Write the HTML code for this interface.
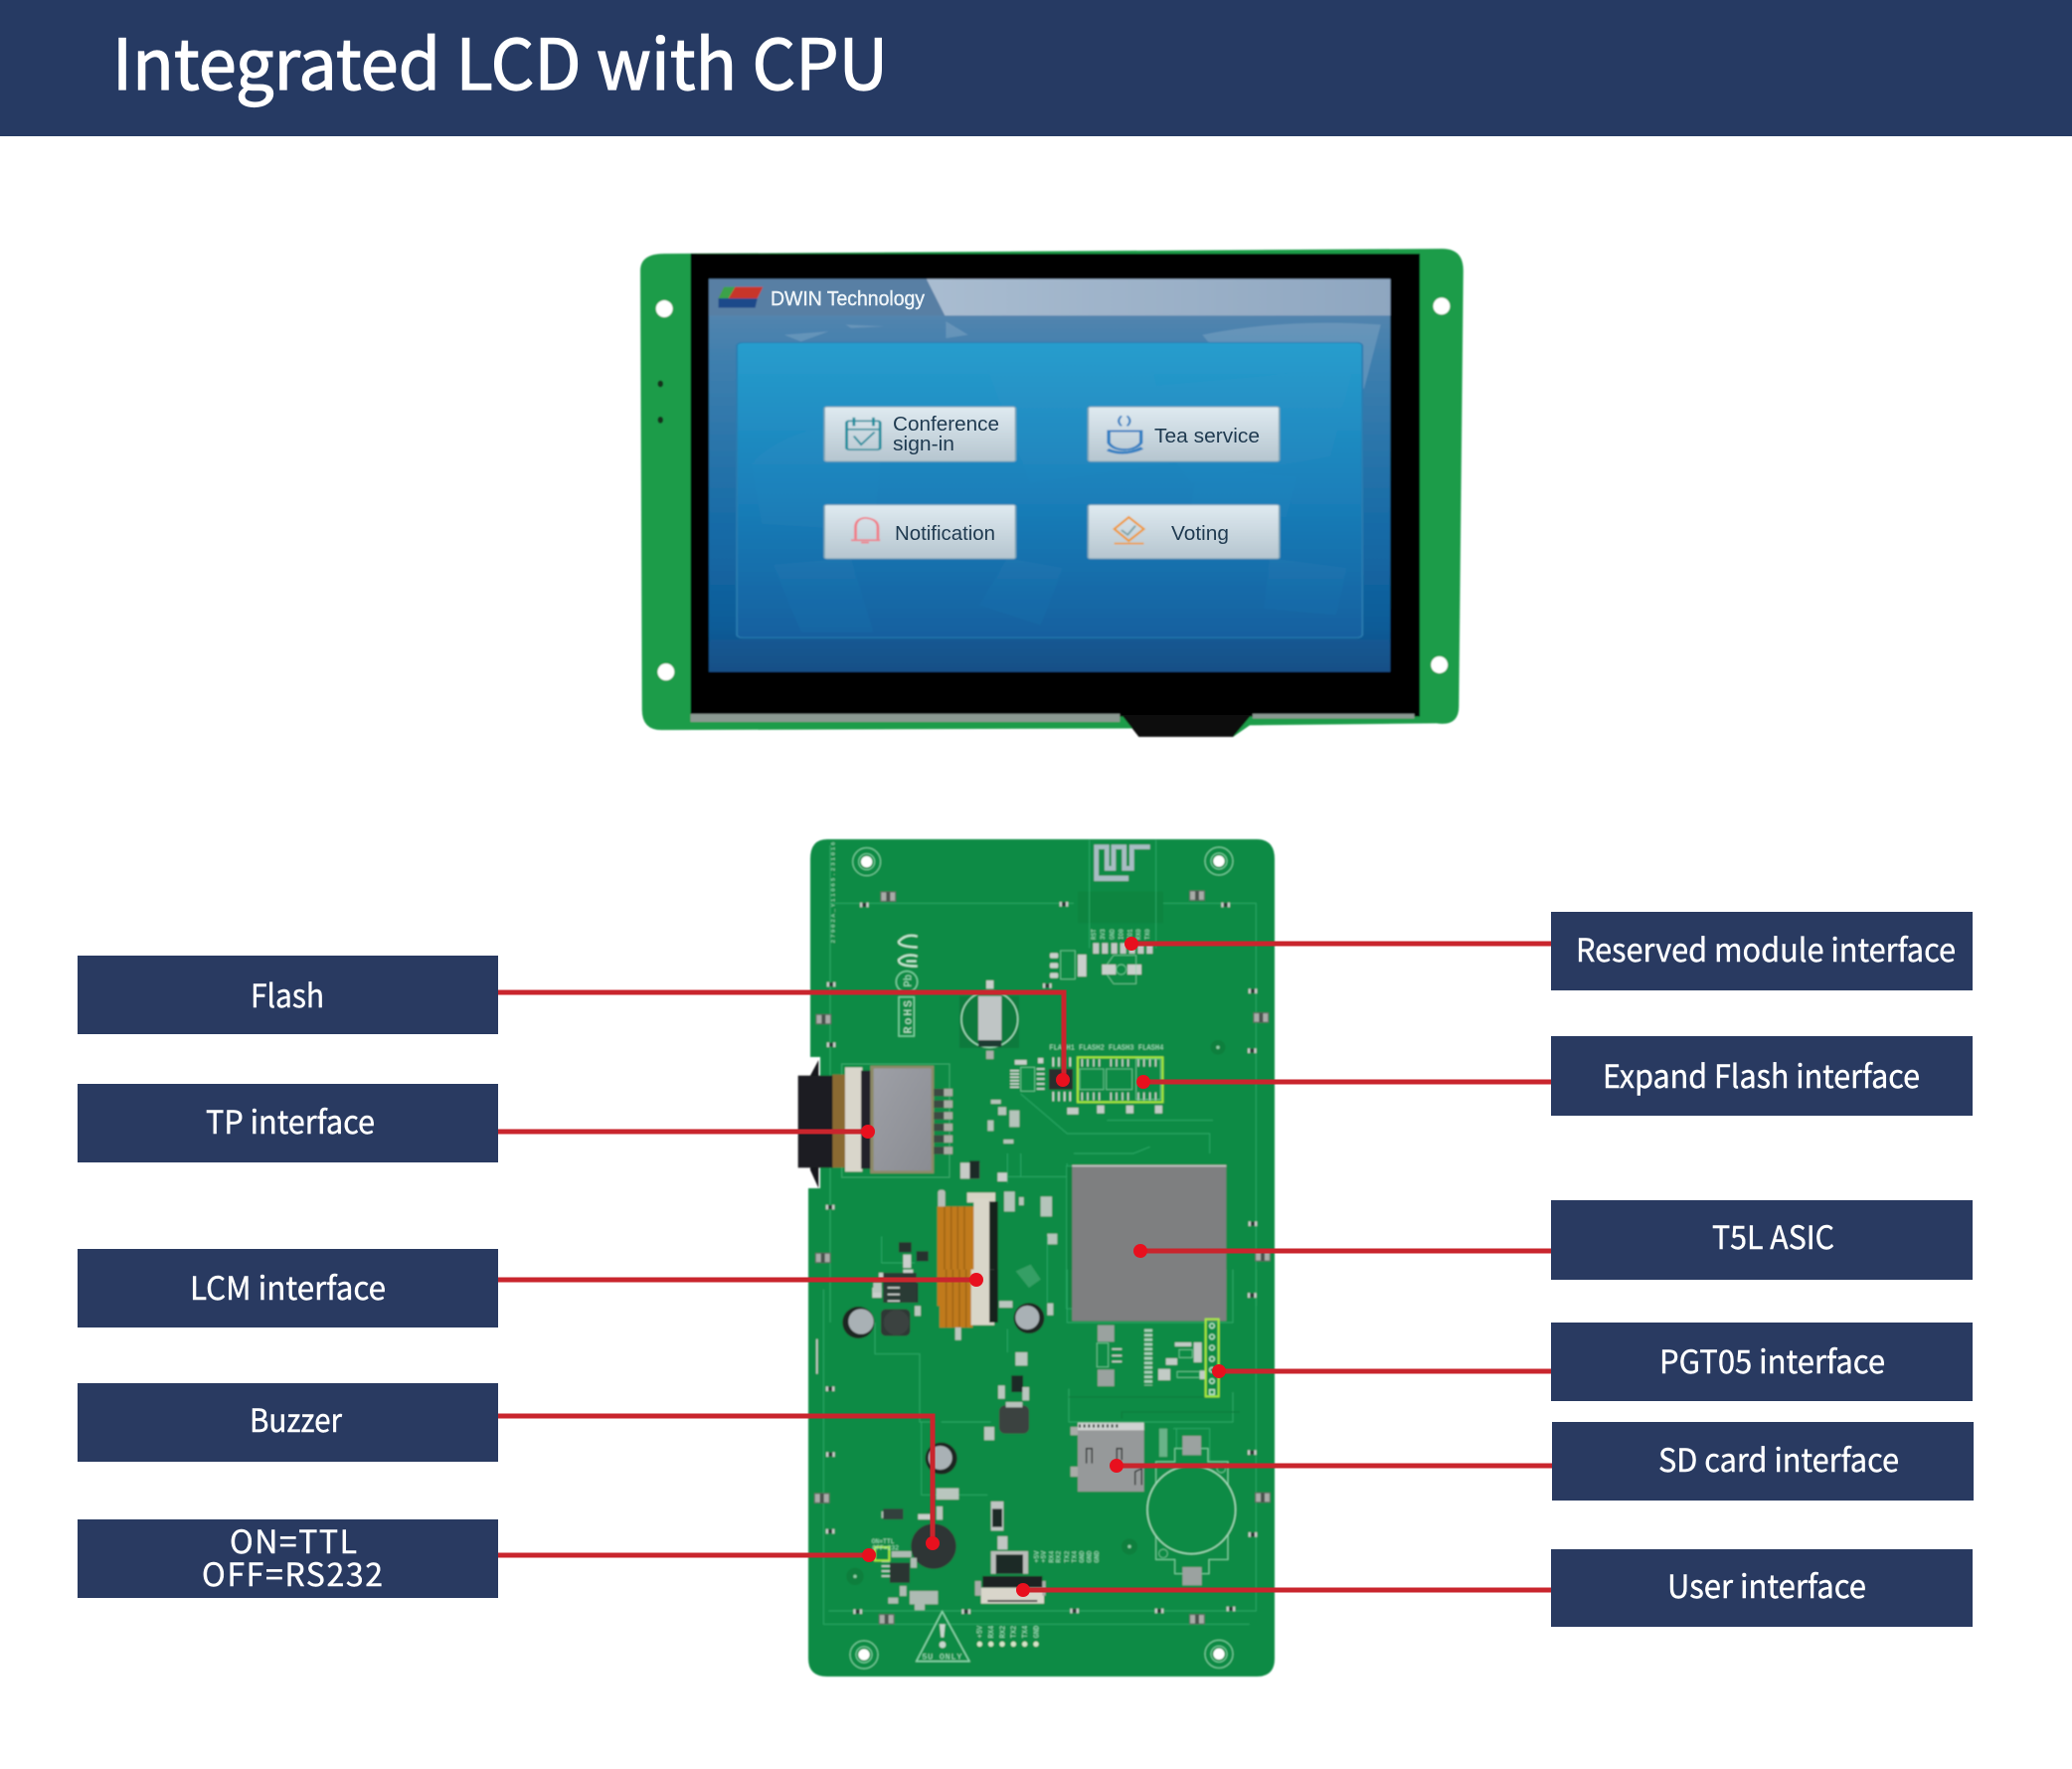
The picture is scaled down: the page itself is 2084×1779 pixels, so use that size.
<!DOCTYPE html>
<html><head><meta charset="utf-8"><title>Integrated LCD with CPU</title>
<style>html,body{margin:0;padding:0;background:#fff}svg{display:block}
.l{font-family:"Noto Sans CJK SC","Liberation Sans",sans-serif;font-size:32px;fill:#fff}
.b{font-family:"Liberation Sans",sans-serif;font-size:20px;fill:#1f3a50}
.s{font-family:"Liberation Mono",monospace;font-size:24px;fill:#a8e6c4}
.silk{fill:none;stroke:#7fd6a6;stroke-width:4}
.tr{fill:none;stroke:#0a7c3c;stroke-width:4}
.tl{fill:none;stroke:#2aa766;stroke-width:3}
</style></head><body>
<svg xmlns="http://www.w3.org/2000/svg" width="2084" height="1779" viewBox="0 0 2084 1779">
<defs>
<linearGradient id="scr" x1="0" y1="0" x2="0" y2="1"><stop offset="0" stop-color="#6388ad"/><stop offset=".2" stop-color="#3f7fae"/><stop offset=".65" stop-color="#146aa6"/><stop offset=".88" stop-color="#0f5c98"/><stop offset="1" stop-color="#164f86"/></linearGradient>
<linearGradient id="pan" x1="0" y1="0" x2="0" y2="1"><stop offset="0" stop-color="#279dcd"/><stop offset=".5" stop-color="#1a80ba"/><stop offset="1" stop-color="#12609f"/></linearGradient>
<linearGradient id="hd" x1="0" y1="0" x2="1" y2="0"><stop offset="0" stop-color="#a9bcd0"/><stop offset="1" stop-color="#8ea6c0"/></linearGradient>
<linearGradient id="btn" x1="0" y1="0" x2="0" y2="1"><stop offset="0" stop-color="#dfeaf0"/><stop offset="1" stop-color="#b5c5cf"/></linearGradient>
<linearGradient id="tp" x1="0" y1="0" x2="1" y2="1"><stop offset="0" stop-color="#9d9fa6"/><stop offset="1" stop-color="#8a8c92"/></linearGradient>
<filter id="bl" x="-5%" y="-5%" width="110%" height="110%"><feGaussianBlur stdDeviation=".8"/></filter>
<symbol id="r" overflow="visible"><rect x="-10" y="-6" width="20" height="12" fill="#2b3a36"/><rect x="-13" y="-7" width="7" height="14" fill="#c9cfcb"/><rect x="6" y="-7" width="7" height="14" fill="#c9cfcb"/></symbol>
<symbol id="clip" overflow="visible"><rect x="-22" y="-14" width="44" height="28" fill="#a9aca8" stroke="#5a6660" stroke-width="3"/><rect x="-6" y="-14" width="12" height="28" fill="#4a524e"/></symbol>
<symbol id="hole" overflow="visible"><circle r="42" fill="none" stroke="#7fd6a6" stroke-width="3"/><circle r="24" fill="#0a8a43" stroke="#7fd6a6" stroke-width="3"/><circle r="17" fill="#fff"/></symbol>
</defs>

<rect width="2084" height="1779" fill="#fff"/>
<rect width="2084" height="137" fill="#263a63"/>
<text x="113" y="90" textLength="780" lengthAdjust="spacingAndGlyphs" font-family="'Noto Sans CJK SC','Liberation Sans',sans-serif" font-size="70" fill="#fff" stroke="#fff" stroke-width="1.2">Integrated LCD with CPU</text>

<!-- LCD -->
<g filter="url(#bl)">
<g transform="translate(620.5,228) scale(.5608,.3397)">
<path d="M85 80L1480 65Q1518 65 1518 130L1510 1420Q1510 1480 1470 1470L1135 1476L1105 1510H936L930 1485L80 1490Q45 1490 45 1430L42 130Q42 80 85 80Z" fill="#1d9c48"/>
<rect x="132" y="80" width="1308" height="1370" fill="#000"/>
<rect x="132" y="1442" width="770" height="24" fill="#8b9992"/>
<rect x="1140" y="1442" width="290" height="14" fill="#8b9992"/>
<path d="M905 1445H1138L1105 1510H936Z" fill="#111"/>
<rect x="165" y="155" width="1222" height="1163" fill="url(#scr)"/>
<path d="M555 155H1387V263H588Z" fill="url(#hd)"/>
<path d="M165 155H555L588 263H165Z" fill="#587fa4"/>
<path d="M1050 320Q1200 270 1370 290L1340 480L1200 430L1060 340ZM300 320L380 310L330 340ZM590 280L630 320L590 330ZM410 290L480 295L420 300Z" fill="#8fb0cb" opacity=".4"/>
<rect x="215" y="343" width="1122" height="874" rx="10" fill="url(#pan)" stroke="#2a7db0" stroke-width="3"/>
<path d="M240 700Q330 560 480 600L460 900L260 880ZM280 1000L420 980L460 1200L330 1200ZM660 400L960 420L1000 700L740 760ZM700 980L800 1010L760 1180L650 1120ZM900 480L1320 420L1280 680L1030 760ZM1040 720L1220 740L1200 860L1030 820ZM1170 980L1310 1010L1290 1150L1160 1130Z" fill="#4a9bc6" opacity=".08"/>
<g stroke="#7fa6b8" stroke-width="3">
<rect x="372" y="533" width="343" height="162" rx="5" fill="url(#btn)"/>
<rect x="845" y="533" width="343" height="162" rx="5" fill="url(#btn)"/>
<rect x="372" y="823" width="343" height="160" rx="5" fill="url(#btn)"/>
<rect x="845" y="823" width="343" height="160" rx="5" fill="url(#btn)"/>
</g>
<!-- icons -->
<rect x="412" y="575" width="60" height="85" rx="5" fill="none" stroke="#1c8e9e" stroke-width="5"/>
<path d="M412 600H472M425 565V590M460 565V590" stroke="#1c8e9e" stroke-width="5"/>
<path d="M425 620L438 645L462 608" fill="none" stroke="#1c8e9e" stroke-width="4"/>
<path d="M882 605H940V640Q930 660 910 660Q890 660 882 640Z" fill="none" stroke="#2d7fc2" stroke-width="6"/>
<path d="M880 660Q910 680 942 655" fill="none" stroke="#2d7fc2" stroke-width="8"/>
<path d="M905 560Q895 575 905 590M915 560Q925 575 915 590" fill="none" stroke="#2d7fc2" stroke-width="4"/>
<path d="M428 925V890Q428 865 445 862Q468 865 468 890V925M420 928H472M438 935H452" fill="none" stroke="#ef7e88" stroke-width="5"/>
<path d="M892 895L918 860L945 895L918 930Z" fill="none" stroke="#ee9a35" stroke-width="5"/>
<path d="M905 898L916 912L930 885" fill="none" stroke="#7da2a5" stroke-width="4"/>
<path d="M892 938H945" stroke="#ee9a35" stroke-width="5"/>
<!-- logo -->
<path d="M192 178H262L252 212H182Z" fill="#c8362b"/>
<path d="M192 178H212L200 212H182Z" fill="#3ba24a"/>
<path d="M182 212H252L248 240H182Z" fill="#1c4a8a"/>
<!-- holes -->
<ellipse cx="85" cy="243" rx="15" ry="25" fill="#fff"/>
<ellipse cx="1479" cy="235" rx="15" ry="25" fill="#fff"/>
<ellipse cx="88" cy="1318" rx="15" ry="25" fill="#fff"/>
<ellipse cx="1475" cy="1297" rx="15" ry="25" fill="#fff"/>
<ellipse cx="78" cy="465" rx="5" ry="10" fill="#12331e"/>
<ellipse cx="78" cy="572" rx="5" ry="10" fill="#12331e"/>
</g>
</g>
<text x="775" y="307" textLength="155" lengthAdjust="spacingAndGlyphs" class="b" style="fill:#eef4f8;stroke:#eef4f8;stroke-width:.4">DWIN Technology</text>
<text x="898" y="433" textLength="107" lengthAdjust="spacingAndGlyphs" class="b">Conference</text>
<text x="898" y="453" textLength="62" lengthAdjust="spacingAndGlyphs" class="b">sign-in</text>
<text x="1161" y="445" textLength="106" lengthAdjust="spacingAndGlyphs" class="b">Tea service</text>
<text x="900" y="543" textLength="101" lengthAdjust="spacingAndGlyphs" class="b">Notification</text>
<text x="1178" y="543" textLength="58" lengthAdjust="spacingAndGlyphs" class="b">Voting</text>

<!-- PCB -->
<g filter="url(#bl)">
<path d="M832 844H1264Q1282 844 1282 864V1668Q1282 1686 1264 1686H832Q813 1686 813 1668V1195H825V1063H815V864Q815 844 832 844Z" fill="#0c8b45"/>

<!-- upper half, zoom A coordinates -->
<g transform="translate(780,830) scale(.33333)">
<use href="#hole" x="275" y="110"/><use href="#hole" x="1338" y="108"/>
<rect x="912" y="200" width="258" height="95" fill="#0b8541"/>
<path class="tl" d="M947 45V370M1148 45V370M165 235H900M1170 235H1450V1450M165 60V1500"/>
<path d="M968 168V65H1000V130H1020V65H1052V130H1075V65H1130" fill="none" stroke="#a7bcc2" stroke-width="14"/>
<path d="M965 160H1065" stroke="#a7bcc2" stroke-width="16"/>
<g fill="#c2c7c4"><rect x="958" y="355" width="18" height="32"/><rect x="985" y="355" width="18" height="32"/><rect x="1013" y="355" width="18" height="32"/><rect x="1040" y="355" width="18" height="32"/><rect x="1067" y="355" width="18" height="32"/><rect x="1093" y="355" width="18" height="32"/><rect x="1120" y="355" width="18" height="32"/></g>
<g class="s" style="font-size:18px"><text transform="translate(966,345) rotate(-90)" x="0" y="0">RST</text><text transform="translate(993,345) rotate(-90)">3V3</text><text transform="translate(1021,345) rotate(-90)">GND</text><text transform="translate(1048,345) rotate(-90)">IO0</text><text transform="translate(1075,345) rotate(-90)">IO1</text><text transform="translate(1101,345) rotate(-90)">RX0</text><text transform="translate(1128,345) rotate(-90)">TX0</text></g>
<text transform="translate(178,355) rotate(-90)" class="s" style="font-size:17px" textLength="305">27902A_Y11065.231016</text>
<use href="#clip" x="340" y="215"/><use href="#clip" x="1272" y="212"/>
<use href="#r" x="268" y="240"/><use href="#r" x="870" y="238"/><use href="#r" x="1358" y="240"/>
<use href="#clip" x="145" y="585"/><use href="#clip" x="1465" y="580"/><use href="#clip" x="143" y="1305"/><use href="#clip" x="1470" y="1300"/>
<use href="#r" x="168" y="480"/><use href="#r" x="168" y="662"/><use href="#r" x="1440" y="500"/><use href="#r" x="1438" y="680"/><use href="#r" x="165" y="1152"/><use href="#r" x="1440" y="1202"/><use href="#r" x="1438" y="1418"/>
<!-- CE / RoHS -->
<path d="M428 335Q395 325 372 350Q368 365 428 368" fill="none" stroke="#c7ebd6" stroke-width="6"/>
<path d="M428 395Q395 385 372 405Q368 425 428 425M395 410L425 410" fill="none" stroke="#c7ebd6" stroke-width="6"/>
<circle cx="396" cy="472" r="32" class="silk"/>
<text transform="translate(410,488) rotate(-90)" class="s" style="font-size:32px">Pb</text>
<rect x="372" y="518" width="46" height="118" class="silk"/>
<text transform="translate(409,628) rotate(-90)" class="s" style="font-size:34px;fill:#c7ebd6" textLength="100">RoHS</text>
<!-- coin -->
<rect x="555" y="515" width="180" height="157" fill="#0a7a3c"/>
<circle cx="646" cy="585" r="85" fill="none" stroke="#a9e2c2" stroke-width="4"/>
<rect x="612" y="515" width="70" height="135" fill="#bfc5c5"/>
<rect x="612" y="648" width="70" height="20" fill="#1d3b30"/>
<rect x="636" y="468" width="22" height="25" fill="#c9cfcb"/><rect x="636" y="680" width="22" height="25" fill="#a9aea9"/>
<!-- parts near top -->
<g fill="#c9cfcb"><rect x="828" y="385" width="25" height="16" rx="5"/><rect x="828" y="415" width="25" height="16" rx="5"/><rect x="828" y="445" width="25" height="16" rx="5"/><rect x="912" y="390" width="26" height="66"/><rect x="985" y="420" width="42" height="30"/><rect x="1062" y="420" width="42" height="30"/></g>
<rect x="860" y="378" width="44" height="86" class="silk" style="stroke-width:2"/>
<path class="silk" style="stroke-width:2" d="M1000 420L1020 392H1088V478H1020L1000 450"/>
<circle cx="1043" cy="435" r="15" class="silk" style="stroke-width:2"/>
<use href="#r" x="820" y="484"/>
<!-- flash ICs -->
<text x="826" y="676" class="s" style="font-size:21px" textLength="345">FLASH1 FLASH2 FLASH3 FLASH4</text>
<rect x="825" y="735" width="72" height="62" fill="#2a2f2e"/>
<path d="M838 700V728M855 700V728M872 700V728M889 700V728M838 804V832M855 804V832M872 804V832M889 804V832" stroke="#d6dad8" stroke-width="5"/>
<rect x="740" y="730" width="42" height="72" class="silk" style="stroke-width:2"/>
<path d="M708 740H735M708 750H735M708 760H735M708 770H735M708 780H735M708 790H735M788 735H812M788 750H812M788 765H812M788 780H812M788 795H812" stroke="#cfd5d2" stroke-width="5"/>
<rect x="722" y="708" width="36" height="14" fill="#c9cfcb"/><rect x="792" y="702" width="16" height="16" fill="#c9cfcb"/>
<rect x="912" y="700" width="256" height="135" fill="#0c8a44" stroke="#a8ea3c" stroke-width="6"/>
<path d="M925 705V728M942 705V728M960 705V728M977 705V728M1012 705V728M1029 705V728M1047 705V728M1064 705V728M1095 705V728M1112 705V728M1130 705V728M1147 705V728M925 806V830M942 806V830M960 806V830M977 806V830M1012 806V830M1029 806V830M1047 806V830M1064 806V830M1095 806V830M1112 806V830M1130 806V830M1147 806V830" stroke="#d6dad8" stroke-width="4"/>
<rect x="918" y="735" width="72" height="62" class="silk" style="stroke-width:2"/><rect x="998" y="735" width="78" height="62" class="silk" style="stroke-width:2"/><rect x="1088" y="705" width="74" height="122" class="silk" style="stroke-width:2"/>
<g fill="#c2cbc6"><rect x="880" y="852" width="34" height="20"/><rect x="970" y="845" width="22" height="24"/><rect x="1058" y="845" width="22" height="24"/><rect x="1145" y="845" width="22" height="24"/></g>
<path class="tl" d="M740 810L880 930H1310V990M1000 890H1320M900 990H1080L1130 970"/>
<circle cx="1335" cy="670" r="22" fill="#0a7f3c"/><circle cx="1335" cy="670" r="5" fill="#8fcfa8"/>
<!-- TP connector -->
<path d="M105 755L130 708V1095L105 1040Z" fill="#18191b"/>
<rect x="200" y="720" width="325" height="342" fill="none" stroke="#3aac6d" stroke-width="3"/>
<rect x="68" y="755" width="106" height="278" fill="#1b1d20"/>
<rect x="172" y="752" width="40" height="280" fill="#8a6a30"/>
<rect x="210" y="730" width="52" height="315" fill="#d9d6cb"/>
<rect x="258" y="740" width="38" height="296" fill="#20242c"/>
<rect x="286" y="725" width="192" height="325" fill="#8d8a68"/>
<rect x="296" y="733" width="174" height="309" rx="4" fill="url(#tp)"/>
<g fill="#3d4843"><rect x="478" y="795" width="55" height="22"/><rect x="478" y="830" width="55" height="22"/><rect x="478" y="865" width="55" height="22"/><rect x="478" y="900" width="55" height="22"/><rect x="478" y="935" width="55" height="22"/><rect x="478" y="970" width="55" height="22"/></g>
<g fill="#a9aea5"><rect x="508" y="795" width="26" height="22"/><rect x="508" y="830" width="26" height="22"/><rect x="508" y="865" width="26" height="22"/><rect x="508" y="900" width="26" height="22"/><rect x="508" y="935" width="26" height="22"/><rect x="508" y="970" width="26" height="22"/></g>
<!-- mid parts -->
<g fill="#b4c4ba"><rect x="650" y="828" width="30" height="12"/><rect x="672" y="850" width="24" height="24"/><rect x="640" y="890" width="18" height="32"/><rect x="706" y="860" width="30" height="50"/><rect x="688" y="948" width="30" height="12"/><rect x="690" y="1105" width="32" height="60"/><rect x="735" y="1122" width="14" height="24"/><rect x="800" y="1120" width="34" height="60"/><rect x="820" y="1232" width="30" height="32"/></g>
<rect x="558" y="1018" width="58" height="48" fill="#c6cbc6"/><rect x="586" y="1012" width="30" height="54" fill="#1f2a26"/>
<rect x="670" y="1048" width="30" height="26" fill="#c9cfcb"/>
<path class="tl" d="M700 990V1080M740 990V1060M880 1020V1150M820 1240V1440M700 1060H880M320 1240V1320H420"/>
<!-- LCM connector -->
<rect x="490" y="1100" width="22" height="60" rx="8" fill="#b7bdb8"/>
<rect x="488" y="1150" width="112" height="300" fill="#c07a1d"/>
<path d="M510 1150V1450M530 1150V1450M550 1150V1450M570 1150V1450" stroke="#8f5a12" stroke-width="5" opacity=".6"/>
<rect x="578" y="1108" width="85" height="30" fill="#d7d3c4"/>
<rect x="598" y="1128" width="48" height="330" fill="#d9d6c9"/>
<rect x="645" y="1135" width="26" height="320" fill="#15211d"/>
<!-- LCM area parts -->
<g fill="#26322d"><rect x="372" y="1258" width="38" height="30"/><rect x="425" y="1285" width="36" height="30"/><rect x="340" y="1380" width="90" height="60"/></g>
<g fill="#c9cfcb"><rect x="385" y="1295" width="24" height="40"/><rect x="312" y="1350" width="40" height="16"/><rect x="385" y="1340" width="30" height="22"/><rect x="292" y="1395" width="28" height="30"/></g>
<path d="M725 1345L770 1325L800 1370L765 1395Z" fill="#88c6a1" opacity=".35"/>
<!-- ASIC -->
<rect x="878" y="1028" width="480" height="430" fill="#0b8240" stroke="#28a664" stroke-width="3"/>
<rect x="895" y="1025" width="465" height="470" fill="#7e7f80"/>
<rect x="895" y="1025" width="465" height="5" fill="#c7c8c6"/>
</g>

<!-- lower half, zoom B coordinates -->
<g transform="translate(780,1280) scale(.33333)">
<rect x="495" y="-10" width="100" height="175" fill="#c07a1d"/>
<path d="M515 -10V165M535 -10V165M555 -10V165M575 -10V165" stroke="#8f5a12" stroke-width="5" opacity=".6"/>
<rect x="590" y="-10" width="70" height="168" fill="#d9d6c9"/><rect x="645" y="-10" width="26" height="160" fill="#15211d"/>
<rect x="895" y="-10" width="465" height="155" fill="#7e7f80"/>
<path class="tl" d="M880 -10V150H1380V-10"/>
<path class="tl" d="M145 50V1060H1430M1450 -10V1020H160M300 150V245H435V450H480M885 350V450H1380V360M500 450H650M700 170V240M440 450V670H640M1200 470H1310V570M1210 530V470"/>
<path class="tr" d="M885 375H1300M1045 440V420H1400"/>
<!-- caps -->
<circle cx="250" cy="150" r="48" fill="#1e2522"/><circle cx="258" cy="147" r="38" fill="#a9b1b5"/>
<rect x="318" y="110" width="88" height="80" rx="14" fill="#2f3735"/>
<circle cx="365" cy="150" r="38" fill="#3a4340"/>
<circle cx="765" cy="137" r="46" fill="#1e2522"/><circle cx="760" cy="135" r="36" fill="#a9b1b5"/>
<circle cx="500" cy="560" r="48" fill="#1e2522"/><circle cx="497" cy="558" r="36" fill="#a9b1b5"/>
<rect x="675" y="400" width="90" height="85" rx="18" fill="#3a4340"/>
<rect x="695" y="390" width="50" height="16" fill="#b9c1bc"/>
<rect x="712" y="310" width="35" height="50" fill="#1f2a26"/>
<g fill="#b9c6be"><rect x="672" y="340" width="20" height="40"/><rect x="745" y="345" width="20" height="40"/><rect x="724" y="240" width="36" height="40"/><rect x="630" y="465" width="30" height="40"/><rect x="820" y="92" width="18" height="36"/><rect x="675" y="85" width="40" height="20"/><rect x="542" y="165" width="18" height="38"/><rect x="295" y="30" width="25" height="30"/><rect x="420" y="100" width="18" height="30"/><rect x="485" y="650" width="68" height="34"/><rect x="320" y="720" width="40" height="20"/><rect x="486" y="705" width="18" height="40"/></g>
<rect x="325" y="0" width="100" height="90" fill="#2a3a34"/>
<path d="M338 45H375M338 65H375M338 85H375" stroke="#c7ccc9" stroke-width="5"/>
<path d="M125 200V305" stroke="#c7ccc9" stroke-width="5"/>
<!-- ASIC lower parts -->
<rect x="972" y="158" width="50" height="50" fill="#9aa29f"/><rect x="972" y="292" width="50" height="50" fill="#9aa29f"/>
<rect x="970" y="212" width="34" height="72" class="silk" style="stroke-width:2"/>
<path d="M1015 230H1045M1015 250H1045M1015 268H1045" stroke="#c9cfcb" stroke-width="5"/>
<path d="M1125 170V340" stroke="#aad0ba" stroke-width="24" stroke-dasharray="8 6"/>
<g fill="#c2cbc6"><rect x="1155" y="290" width="36" height="34"/><rect x="1280" y="295" width="16" height="26"/><rect x="1205" y="210" width="50" height="12"/><rect x="1262" y="210" width="24" height="60"/><rect x="1178" y="258" width="34" height="20"/></g>
<rect x="1218" y="232" width="40" height="24" class="silk" style="stroke-width:2"/>
<rect x="1212" y="298" width="68" height="18" class="silk" style="stroke-width:2"/>
<rect x="1298" y="140" width="39" height="233" fill="none" stroke="#a8ea3c" stroke-width="6"/>
<g fill="none" stroke="#bfe8cf" stroke-width="4"><circle cx="1317" cy="160" r="7"/><circle cx="1317" cy="193" r="7"/><circle cx="1317" cy="226" r="7"/><circle cx="1317" cy="260" r="7"/><circle cx="1317" cy="293" r="7"/><circle cx="1317" cy="327" r="7"/><rect x="1310" y="353" width="14" height="14"/></g>
<!-- SD -->
<rect x="912" y="465" width="200" height="195" fill="#96999a"/>
<path d="M912 452H1112V475H912Z" fill="#cfd3d1"/>
<path d="M915 462H1040" stroke="#263a2e" stroke-width="10" stroke-dasharray="6 8"/>
<rect x="890" y="585" width="22" height="30" fill="#a9aca8"/><rect x="890" y="465" width="22" height="25" fill="#a9aca8"/>
<path d="M938 575V530H955V575M1030 565V530H1045V565M1085 640V600L1105 590V640" fill="none" stroke="#1e2422" stroke-width="4"/>
<rect x="1158" y="470" width="24" height="85" fill="#a7cfb5" opacity=".6"/>
<!-- Battery -->
<path class="silk" style="stroke-width:3" d="M1205 570V530H1305V570H1365V865H1308V908H1205V865H1148V570Z"/>
<circle cx="1255" cy="715" r="133" fill="#0c8b45" stroke="#a9e2c2" stroke-width="4"/>
<rect x="1228" y="492" width="56" height="58" fill="#9ba2a0"/><rect x="1228" y="888" width="58" height="55" fill="#9ba2a0"/>
<circle cx="1170" cy="847" r="13" class="silk" style="stroke-width:2"/><circle cx="1345" cy="590" r="13" class="silk" style="stroke-width:2"/>
<circle cx="1068" cy="826" r="24" fill="#0a7f3c"/><circle cx="1068" cy="826" r="5" fill="#8fcfa8"/>
<circle cx="240" cy="916" r="26" fill="#0a7f3c"/><circle cx="240" cy="916" r="5" fill="#8fcfa8"/>
<!-- clips -->
<use href="#clip" x="140" y="680"/><use href="#clip" x="1470" y="678"/><use href="#clip" x="335" y="1045"/><use href="#clip" x="1272" y="1045"/>
<use href="#r" x="165" y="350"/><use href="#r" x="166" y="548"/><use href="#r" x="165" y="780"/><use href="#r" x="1438" y="542"/><use href="#r" x="1440" y="790"/><use href="#r" x="1438" y="68"/><use href="#r" x="248" y="1022"/><use href="#r" x="575" y="1022"/><use href="#r" x="902" y="1020"/><use href="#r" x="1158" y="1020"/><use href="#r" x="1374" y="1014"/>
<!-- bottom-left parts -->
<rect x="650" y="690" width="38" height="88" fill="#bfc5c2"/><rect x="654" y="712" width="30" height="55" fill="#1f2a26"/>
<circle cx="477" cy="825" r="68" fill="#2f3534"/>
<path d="M320 870H345M320 885H345M320 900H345M320 915H345" stroke="#ccd1ce" stroke-width="5"/>
<rect x="345" y="875" width="60" height="60" fill="#2b3532"/>
<g fill="#aebbb3"><rect x="408" y="860" width="18" height="30"/><rect x="375" y="945" width="20" height="30"/><rect x="405" y="960" width="85" height="40"/><rect x="340" y="980" width="30" height="18"/><rect x="350" y="840" width="60" height="18"/><rect x="420" y="990" width="30" height="28"/></g>
<rect x="325" y="712" width="60" height="32" fill="#32413c"/><rect x="430" y="728" width="40" height="16" fill="#c9cfcb"/>
<rect x="300" y="828" width="43" height="40" fill="none" stroke="#a8ea3c" stroke-width="6"/>
<text x="290" y="816" class="s" style="font-size:19px">ON=TTL</text>
<text x="292" y="836" class="s" style="font-size:19px">OFF=232</text>
<!-- user connector -->
<rect x="650" y="840" width="112" height="68" fill="#b9bdba"/><rect x="665" y="850" width="82" height="58" fill="#1f2a26"/>
<rect x="670" y="795" width="30" height="40" fill="#bfc6c2"/>
<rect x="625" y="915" width="180" height="35" fill="#1d2421"/>
<rect x="620" y="950" width="190" height="48" fill="#d9d6cb"/>
<rect x="602" y="930" width="18" height="44" fill="#a9aca8"/><rect x="805" y="930" width="10" height="44" fill="#a9aca8"/>
<path d="M640 990H790" stroke="#444" stroke-width="6"/>
<g class="s" style="font-size:20px"><text transform="translate(793,875) rotate(-90)">+5V</text><text transform="translate(815,875) rotate(-90)">+5V</text><text transform="translate(838,875) rotate(-90)">RX4</text><text transform="translate(860,875) rotate(-90)">RX2</text><text transform="translate(885,875) rotate(-90)">TX2</text><text transform="translate(908,875) rotate(-90)">TX4</text><text transform="translate(930,875) rotate(-90)">GND</text><text transform="translate(952,875) rotate(-90)">GND</text><text transform="translate(975,875) rotate(-90)">GND</text></g>
<!-- bottom -->
<use href="#hole" x="267" y="1152"/><use href="#hole" x="1338" y="1150"/>
<path d="M503 1022L425 1172H585Z" fill="none" stroke="#8fdcb2" stroke-width="4"/>
<path d="M495 1060H512L508 1100H499Z" fill="#c8d6cd"/><circle cx="504" cy="1122" r="10" fill="#c8d6cd"/>
<text x="442" y="1165" class="s" style="font-size:25px" textLength="120">5U ONLY</text>
<g class="s" style="font-size:21px"><text transform="translate(622,1102) rotate(-90)">+5V</text><text transform="translate(657,1102) rotate(-90)">RX4</text><text transform="translate(691,1102) rotate(-90)">RX2</text><text transform="translate(725,1102) rotate(-90)">TX2</text><text transform="translate(759,1102) rotate(-90)">TX4</text><text transform="translate(793,1102) rotate(-90)">GND</text></g>
<g fill="#d6e4c8"><circle cx="616" cy="1120" r="8"/><circle cx="650" cy="1120" r="8"/><circle cx="684" cy="1120" r="8"/><circle cx="718" cy="1120" r="8"/><circle cx="752" cy="1120" r="8"/><circle cx="786" cy="1120" r="8"/></g>
</g>
</g>

<!-- Labels -->
<g fill="#293a61">
<rect x="78" y="961" width="423" height="79"/><rect x="78" y="1090" width="423" height="79"/><rect x="78" y="1256" width="423" height="79"/><rect x="78" y="1391" width="423" height="79"/><rect x="78" y="1528" width="423" height="79"/>
<rect x="1560" y="917" width="424" height="79"/><rect x="1560" y="1042" width="424" height="80"/><rect x="1560" y="1207" width="424" height="80"/><rect x="1560" y="1330" width="424" height="79"/><rect x="1561" y="1430" width="424" height="79"/><rect x="1560" y="1558" width="424" height="78"/>
</g>
<g class="l" stroke="#fff" stroke-width=".4">
<text x="252" y="1013" textLength="74" lengthAdjust="spacingAndGlyphs">Flash</text>
<text x="207" y="1140" textLength="170" lengthAdjust="spacingAndGlyphs">TP interface</text>
<text x="191" y="1307" textLength="197" lengthAdjust="spacingAndGlyphs">LCM interface</text>
<text x="251" y="1440" textLength="93" lengthAdjust="spacingAndGlyphs">Buzzer</text>
<text x="231" y="1562" textLength="128">ON=TTL</text>
<text x="203" y="1595" textLength="182">OFF=RS232</text>
<text x="1585" y="967" textLength="382" lengthAdjust="spacingAndGlyphs">Reserved module interface</text>
<text x="1612" y="1094" textLength="319" lengthAdjust="spacingAndGlyphs">Expand Flash interface</text>
<text x="1722" y="1256" textLength="123" lengthAdjust="spacingAndGlyphs">T5L ASIC</text>
<text x="1669" y="1381" textLength="227" lengthAdjust="spacingAndGlyphs">PGT05 interface</text>
<text x="1668" y="1480" textLength="242" lengthAdjust="spacingAndGlyphs">SD card interface</text>
<text x="1677" y="1607" textLength="200" lengthAdjust="spacingAndGlyphs">User interface</text>
</g>

<!-- Connectors -->
<g fill="none" stroke="#c9252d" stroke-width="5">
<path d="M501 998H1070V1086"/>
<path d="M501 1138H873"/>
<path d="M501 1287H982"/>
<path d="M501 1424H938V1552"/>
<path d="M501 1564H874"/>
<path d="M1560 949H1138"/>
<path d="M1560 1088H1150"/>
<path d="M1560 1258H1147"/>
<path d="M1560 1379H1226"/>
<path d="M1561 1474H1123"/>
<path d="M1560 1599H1029"/>
</g>
<g fill="#e8101e">
<circle cx="1069" cy="1086" r="7"/><circle cx="873" cy="1138" r="7"/><circle cx="982" cy="1287" r="7"/><circle cx="938" cy="1552" r="7"/><circle cx="874" cy="1564" r="7"/>
<circle cx="1138" cy="949" r="7"/><circle cx="1150" cy="1088" r="7"/><circle cx="1147" cy="1258" r="7"/><circle cx="1226" cy="1379" r="7"/><circle cx="1123" cy="1474" r="7"/><circle cx="1029" cy="1599" r="7"/>
</g>
</svg>
</body></html>
